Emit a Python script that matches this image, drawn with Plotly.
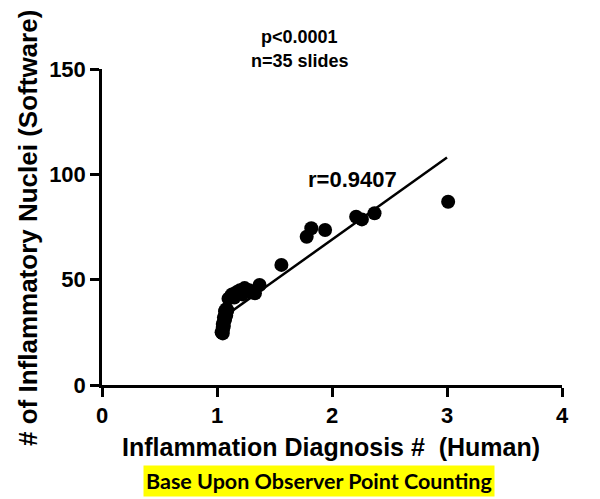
import plotly.graph_objects as go

# Data
human_x = [1.04, 1.05, 1.05, 1.06, 1.05, 1.06, 1.07, 1.06, 1.07, 1.08, 1.07, 1.08, 1.09, 1.05, 1.08,
           1.10, 1.12, 1.17, 1.20, 1.24, 1.22, 1.30, 1.33, 1.37, 1.15, 1.28, 1.13,
           1.56, 1.78, 1.82, 1.94, 2.21, 2.26, 2.37, 3.01]
software_y = [25, 26, 27, 28, 29, 30, 31, 32, 33, 34, 35, 36, 35.5, 24.5, 33,
              41, 42, 44, 45, 46, 43, 44, 43.5, 47.5, 41.5, 45, 43,
              57, 70.4, 74.4, 73.6, 79.9, 78.6, 81.5, 87]
fit_x = [1.04, 3.0]
fit_y = [31.6, 108.0]
x_ticks = [0, 1, 2, 3, 4]
y_ticks = [0, 50, 100, 150]

FONT = "Liberation Sans, Arial, sans-serif"

fig = go.Figure()
fig.add_trace(go.Scatter(x=fit_x, y=fit_y, mode="lines",
                         line=dict(color="black", width=2.5), showlegend=False))
fig.add_trace(go.Scatter(x=human_x, y=software_y, mode="markers",
                         marker=dict(color="black", size=14, line=dict(width=0)),
                         showlegend=False))

axis_common = dict(showline=True, linecolor="black", linewidth=2.5, mirror=False,
                   ticks="outside", ticklen=9, tickwidth=2.5, tickcolor="black",
                   showgrid=False, zeroline=False,
                   tickfont=dict(family=FONT, size=22, color="black", weight="bold"))

fig.update_layout(
    width=600, height=499,
    margin=dict(l=102, r=38, t=69, b=114),
    paper_bgcolor="white", plot_bgcolor="white",
    xaxis=dict(range=[0, 4], tickvals=x_ticks, **axis_common),
    yaxis=dict(range=[0, 150], tickvals=y_ticks, **axis_common),
    showlegend=False,
)

annotations = [
    dict(text="p<0.0001", x=299, y=37, size=18),
    dict(text="n=35 slides", x=300, y=61, size=18),
    dict(text="r=0.9407", x=352, y=179, size=22),
    dict(text="Inflammation Diagnosis #  (Human)", x=331, y=447, size=25),
]
for a in annotations:
    fig.add_annotation(text=a["text"], x=(a["x"] - 102) / 460, y=(385 - a["y"]) / 316,
                       xref="paper", yref="paper", showarrow=False,
                       xanchor="center", yanchor="middle",
                       font=dict(family=FONT, size=a["size"], color="black", weight="bold"))

fig.add_annotation(text="# of Inflammatory Nuclei (Software)", textangle=-90,
                   x=(28 - 102) / 460, y=(385 - 228) / 316, xref="paper", yref="paper",
                   showarrow=False, xanchor="center", yanchor="middle",
                   font=dict(family=FONT, size=26, color="black", weight="bold"))

fig.add_annotation(text="Base Upon Observer Point Counting",
                   x=(319 - 102) / 460, y=(385 - 481) / 316, xref="paper", yref="paper",
                   showarrow=False, xanchor="center", yanchor="middle",
                   bgcolor="#FFFF00", borderpad=2,
                   font=dict(family="Lato, Carlito, Calibri, sans-serif", size=21.5,
                             color="black", weight="bold"))

fig.write_html("out.html", config={"displayModeBar": False},
               post_script="document.body.style.margin='0';")
